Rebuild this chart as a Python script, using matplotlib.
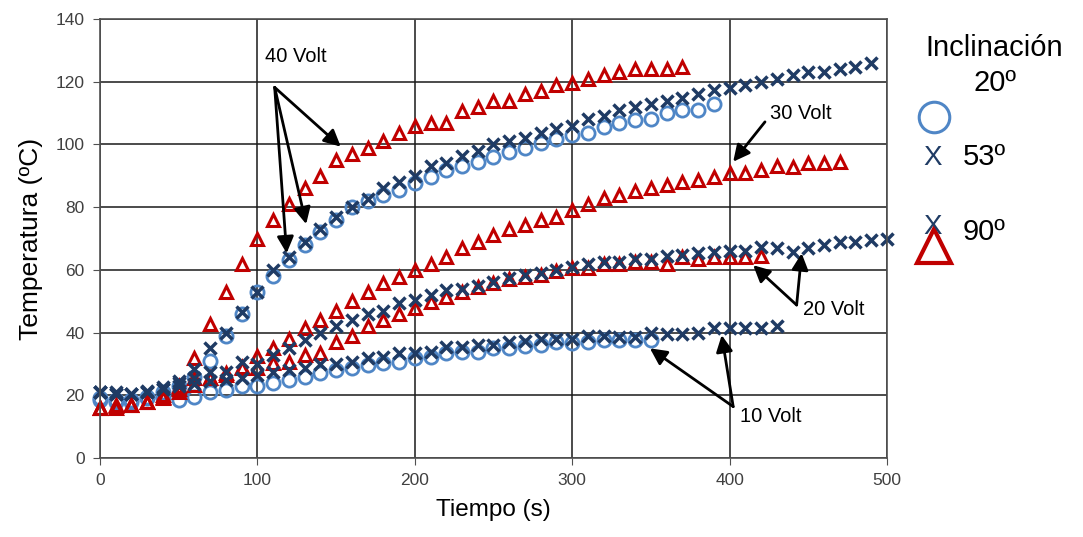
import numpy as np
import matplotlib.pyplot as plt
from matplotlib.lines import Line2D

plt.rcParams['font.family'] = ['Liberation Sans', 'DejaVu Sans']

# time axis: one reading every 10 s
step = 10

# 40 Volt
v40_20 = [19, 18.5, 18.5, 19.5, 21, 23, 26, 31, 39, 46, 53, 58, 63, 68, 72, 76, 80, 82, 84, 85.5,
          87.6, 89.7, 91.8, 93, 94.5, 96, 97.6, 98.8, 100.5, 101.6, 103, 103.6, 105.6, 107, 107.8,
          108, 110, 111, 111, 113]
v40_53 = [21, 21, 20.5, 21.5, 22.5, 24.5, 28.5, 35, 40, 46.5, 53, 60, 64, 69, 73, 77, 80, 82.5, 86,
          88, 90, 93, 94, 96.3, 98, 100, 101, 102, 103.7, 105, 106, 108, 109, 111, 112, 113, 114,
          114.7, 116, 117.3, 118, 119, 120, 121, 122, 123, 123, 124, 124.8, 126]
v40_90 = [16, 16, 17, 18, 20, 23, 32, 42.7, 53, 62, 70, 76, 81, 86, 90, 95, 97, 99, 101, 103.6,
          106, 107, 107, 110.6, 112, 114, 113.8, 116, 117, 119, 119.6, 121, 122, 123, 124, 124,
          124, 124.8]

# 30 Volt
v30_90 = [16, 17, 17, 18, 19.5, 22, 25.5, 25.5, 27, 29, 32.5, 35, 38, 41.5, 44, 47, 50, 53, 55.8,
          57.8, 60, 62, 64, 67, 69, 71, 73, 74.3, 76, 77, 79, 81, 83, 84, 85, 86, 87, 88, 88.6,
          89.6, 91, 91, 92, 93, 92.7, 94, 94, 94.5]

# 20 Volt
v20_53 = [21, 20.5, 20.5, 21, 22, 24, 25.5, 27.5, 27.5, 30.7, 30, 33, 35, 37.6, 40, 42, 44, 46, 47,
          49.4, 50.4, 52, 53.6, 54, 55, 56, 57.3, 58.3, 59, 60, 61, 62, 62.5, 62.5, 63.5, 63.5,
          64.4, 64.7, 65.4, 65.8, 66, 66, 67.3, 67, 65.7, 67, 68, 69, 69, 69.5, 69.7]
v20_90 = [16, 16.5, 17, 18, 19, 21, 23.3, 25.5, 26.5, 28.7, 28.7, 30.3, 30.6, 33, 33.5, 37, 39, 42,
          44, 46, 47.8, 49.8, 51.4, 53, 54.6, 55.8, 57, 57.8, 58.5, 59.7, 60.5, 60.5, 62, 62, 62.5,
          62.5, 62, 64, 63.5, 64, 64, 64, 64.4]

# 10 Volt
v10_20 = [18.5, 18, 18, 19, 19.5, 18.5, 19.5, 21, 21.7, 23, 23, 24, 25, 26, 27, 28, 28.6, 29.6,
          30.3, 30.6, 31.8, 32.3, 33.4, 33.8, 33.8, 35, 35, 35.7, 36, 37, 36.8, 37, 37.6, 37.5,
          37.5, 37.6]
v10_53 = [21, 20.5, 20.5, 21, 22, 23, 23.5, 24.5, 25, 25.5, 26.5, 27.5, 28, 28.6, 30, 30, 30.6, 32,
          32.3, 33.4, 33.4, 33.8, 35.4, 35.4, 36, 36, 37, 37.2, 38, 38, 38, 39, 39, 38.7, 38.7, 40,
          39.7, 39.7, 40, 41.4, 41.4, 41.4, 41.4, 42]

c_20 = '#4f86c6'
c_53 = '#1f3b64'
c_90 = '#c00000'

fig = plt.figure(figsize=(10.83, 5.37), dpi=100)
ax = fig.add_axes([0.0923, 0.147, 0.7267, 0.8176])


def tt(vals):
    return np.arange(len(vals)) * step


circ = dict(linestyle='none', marker='o', mfc='none', mec=c_20, ms=9.5, mew=2, clip_on=False)
tri = dict(linestyle='none', marker='^', mfc='none', mec=c_90, ms=8.5, mew=2.2, clip_on=False)
crs = dict(linestyle='none', marker='x', color=c_53, ms=8, mew=2.5, clip_on=False)

for s in [v40_20, v10_20]:
    ax.plot(tt(s), s, **circ)
for s in [v40_90, v30_90, v20_90]:
    ax.plot(tt(s), s, **tri)
for s in [v40_53, v20_53, v10_53]:
    ax.plot(tt(s), s, **crs)

ax.set_xlim(0, 500)
ax.set_ylim(0, 140)
ax.set_xticks(range(0, 501, 100))
ax.set_yticks(range(0, 141, 20))
ax.grid(True, color='#1a1a1a', lw=1.1)
ax.set_axisbelow(True)
for sp in ax.spines.values():
    sp.set_color('#505050')
    sp.set_linewidth(1.2)
ax.tick_params(direction='out', length=5, color='#505050', labelsize=12.5,
               labelcolor='#404040', pad=6)
ax.set_xlabel('Tiempo (s)', fontsize=17.5, labelpad=8)
ax.set_ylabel('Temperatura (ºC)', fontsize=19, labelpad=9)

# annotations
arw = dict(arrowstyle='-|>', color='black', lw=2, mutation_scale=25, shrinkA=0, shrinkB=0)
txt = dict(fontsize=14.5, va='center', ha='left')

ax.text(105, 128, '40 Volt', **txt)
for tip in [(153, 99.3), (131, 74.6), (118.6, 65.3)]:
    ax.annotate('', xy=tip, xytext=(111, 118.2), arrowprops=arw)

ax.text(425.6, 110, '30 Volt', **txt)
ax.annotate('', xy=(402.3, 94.5), xytext=(422.5, 107.2), arrowprops=arw)

ax.text(446.6, 47.5, '20 Volt', **txt)
for tip in [(415, 61.5), (445.8, 65.3)]:
    ax.annotate('', xy=tip, xytext=(442.6, 48.8), arrowprops=arw)

ax.text(406.5, 13.2, '10 Volt', **txt)
for tip in [(395, 39.2), (349.4, 35)]:
    ax.annotate('', xy=tip, xytext=(402.3, 16.4), arrowprops=arw)

# legend block on the right
fig.text(0.918, 0.911, 'Inclinación', fontsize=21, ha='center', va='center')
fig.text(0.919, 0.845, '20º', fontsize=21, ha='center', va='center')
fig.add_artist(Line2D([0.8624], [0.782], transform=fig.transFigure, marker='o', mfc='none',
                      mec=c_20, ms=22, mew=2.2))
fig.text(0.8615, 0.706, 'X', fontsize=20, ha='center', va='center', color=c_53)
fig.text(0.889, 0.708, '53º', fontsize=21, ha='left', va='center')
fig.text(0.8615, 0.578, 'X', fontsize=20, ha='center', va='center', color=c_53)
fig.add_artist(Line2D([0.8624], [0.542], transform=fig.transFigure, marker='^', mfc='none',
                      mec=c_90, ms=25, mew=3))
fig.text(0.889, 0.568, '90º', fontsize=21, ha='left', va='center')

fig.savefig('out.png', dpi=100)
